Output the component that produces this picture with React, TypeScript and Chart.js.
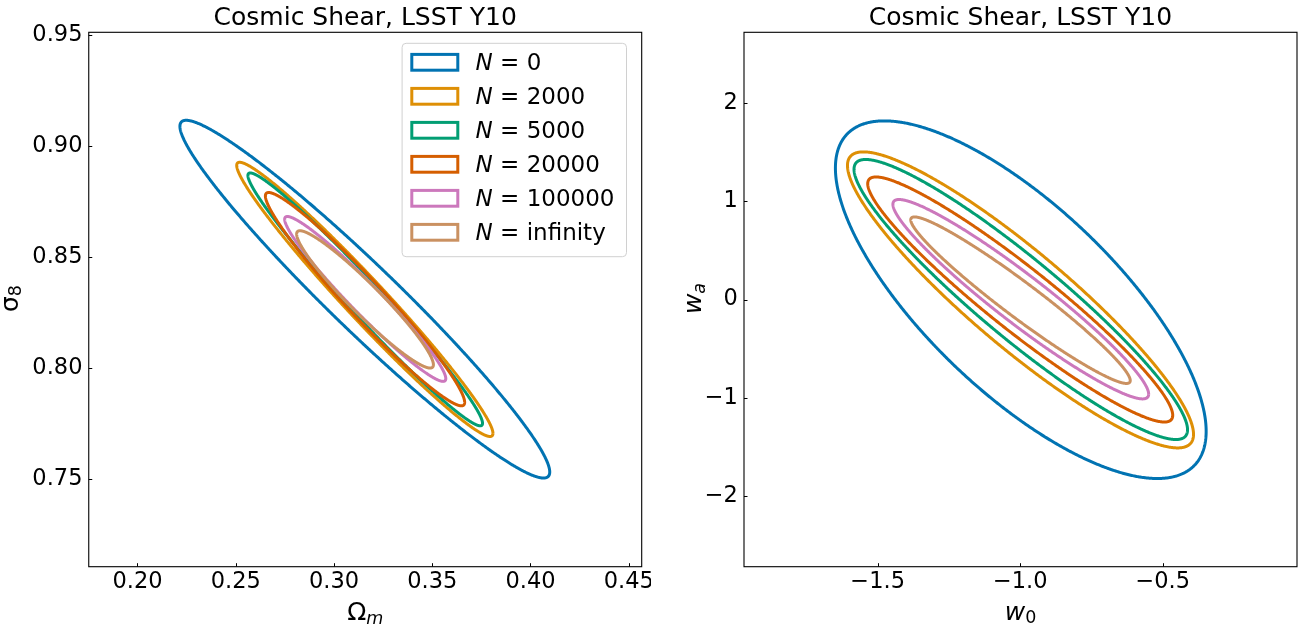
import { useEffect, useRef } from 'react';
import { Chart, registerables } from 'chart.js';

Chart.register(...registerables);

const FONT = "'DejaVu Sans', 'Liberation Sans', sans-serif";

// Survey sizes shown in the legend and their contour colours
const SAMPLE_SIZES = ['0', '2000', '5000', '20000', '100000', 'infinity'];
const COLORS = ['#0173b2', '#de8f05', '#029e73', '#d55e00', '#cc78bc', '#ca9161'];

// Omega_m / sigma_8 contours: centre, half-extent along each axis and correlation
const OM_CENTER = [0.3157, 0.3157, 0.3159, 0.3158, 0.3159, 0.3158];
const S8_CENTER = [0.8311, 0.831, 0.831, 0.8311, 0.8312, 0.831];
const OM_HALF = [0.0941, 0.0652, 0.0597, 0.0507, 0.041, 0.0348];
const S8_HALF = [0.0805, 0.0617, 0.0569, 0.048, 0.0371, 0.0309];
const OM_S8_RHO = [-0.966, -0.977, -0.98, -0.967, -0.966, -0.951];

// w0 / wa contours
const W0_CENTER = [-0.998, -0.999, -0.998, -1.0, -0.998, -0.999];
const WA_CENTER = [-0.002, -0.004, 0.0, 0.0, 0.003, -0.007];
const W0_HALF = [0.6503, 0.607, 0.585, 0.535, 0.4486, 0.385];
const WA_HALF = [1.817, 1.504, 1.4228, 1.245, 1.013, 0.846];
const W0_WA_RHO = [-0.736, -0.908, -0.93, -0.945, -0.952, -0.965];

// Axis ranges and ticks
const OM_RANGE = [0.1752, 0.4566];
const S8_RANGE = [0.7107, 0.9512];
const W0_RANGE = [-1.969, -0.029];
const WA_RANGE = [-2.715, 2.715];
const OM_TICKS = [0.2, 0.25, 0.3, 0.35, 0.4, 0.45];
const S8_TICKS = [0.75, 0.8, 0.85, 0.9, 0.95];
const W0_TICKS = [-1.5, -1.0, -0.5];
const WA_TICKS = [-2, -1, 0, 1, 2];

const TITLE = 'Cosmic Shear, LSST Y10';

type Part = { text: string; italic?: boolean; sub?: boolean };

function contour(cx: number, cy: number, a: number, b: number, rho: number) {
  const pts: { x: number; y: number }[] = [];
  const s = Math.sqrt(1 - rho * rho);
  const n = 480;
  for (let i = 0; i <= n; i++) {
    const t = (2 * Math.PI * i) / n;
    pts.push({ x: cx + a * Math.cos(t), y: cy + b * (rho * Math.cos(t) + s * Math.sin(t)) });
  }
  return pts;
}

function fmt(v: number, decimals: number) {
  const s = Math.abs(v).toFixed(decimals);
  return v < -1e-9 ? '\u2212' + s : s;
}

function drawMath(ctx: CanvasRenderingContext2D, parts: Part[], size: number) {
  const subSize = size * 0.7;
  const fontFor = (p: Part) =>
    `${p.italic ? 'italic ' : ''}${p.sub ? subSize : size}px ${FONT}`;
  let total = 0;
  const widths = parts.map((p) => {
    ctx.font = fontFor(p);
    const w = ctx.measureText(p.text).width;
    total += w;
    return w;
  });
  let x = -total / 2;
  ctx.textAlign = 'left';
  ctx.textBaseline = 'alphabetic';
  parts.forEach((p, i) => {
    ctx.font = fontFor(p);
    ctx.fillText(p.text, x, p.sub ? size * 0.15 : 0);
    x += widths[i];
  });
}

type PanelOpts = {
  xLabel: Part[];
  yLabel: Part[];
  yLabelX: number;
  xLabelY: number;
  legend: boolean;
};

function panelPlugin(o: PanelOpts) {
  return {
    id: 'panelDecor',
    afterDraw(chart: any) {
      const { ctx, chartArea: ca } = chart;
      ctx.save();
      ctx.fillStyle = '#000';
      ctx.strokeStyle = '#000';

      // inward tick marks
      ctx.lineWidth = 1;
      const xs = chart.scales.x;
      const ys = chart.scales.y;
      ctx.beginPath();
      xs.ticks.forEach((t: any) => {
        const px = Math.round(xs.getPixelForValue(t.value)) + 0.5;
        ctx.moveTo(px, ca.bottom);
        ctx.lineTo(px, ca.bottom - 3.5);
      });
      ys.ticks.forEach((t: any) => {
        const py = Math.round(ys.getPixelForValue(t.value)) + 0.5;
        ctx.moveTo(ca.left, py);
        ctx.lineTo(ca.left + 3.5, py);
      });
      ctx.stroke();

      // frame
      ctx.lineWidth = 1.1;
      ctx.strokeRect(ca.left, ca.top, ca.right - ca.left, ca.bottom - ca.top);

      // title
      ctx.font = `25px ${FONT}`;
      ctx.textAlign = 'center';
      ctx.textBaseline = 'alphabetic';
      ctx.fillText(TITLE, (ca.left + ca.right) / 2, 25);

      // axis labels
      ctx.save();
      ctx.translate((ca.left + ca.right) / 2, o.xLabelY);
      drawMath(ctx, o.xLabel, 25);
      ctx.restore();
      ctx.save();
      ctx.translate(o.yLabelX, (ca.top + ca.bottom) / 2 - 1);
      ctx.rotate(-Math.PI / 2);
      drawMath(ctx, o.yLabel, 25);
      ctx.restore();

      if (o.legend) {
        const w = 224.4;
        const h = 213.4;
        const lx = ca.right - 15.2 - w;
        const ly = ca.top + 11;
        ctx.beginPath();
        ctx.roundRect(lx, ly, w, h, 4);
        ctx.fillStyle = 'rgba(255,255,255,0.8)';
        ctx.fill();
        ctx.strokeStyle = '#d0d0d0';
        ctx.lineWidth = 1;
        ctx.stroke();
        const fs = 23;
        SAMPLE_SIZES.forEach((n, i) => {
          const cy = ly + 19 + i * 34;
          ctx.strokeStyle = COLORS[i];
          ctx.lineWidth = 3;
          ctx.strokeRect(lx + 9.7, cy - 7.9, 46, 15.8);
          ctx.fillStyle = '#000';
          ctx.textAlign = 'left';
          ctx.textBaseline = 'alphabetic';
          const bx = lx + 73.5;
          const by = cy + 8;
          ctx.font = `italic ${fs}px ${FONT}`;
          ctx.fillText('N', bx, by);
          const nw = ctx.measureText('N').width;
          ctx.font = `${fs}px ${FONT}`;
          ctx.fillText(' = ' + n, bx + nw, by);
        });
      }
      ctx.restore();
    },
  };
}

function datasets(
  cx: number[],
  cy: number[],
  hx: number[],
  hy: number[],
  rho: number[]
) {
  return SAMPLE_SIZES.map((n, i) => ({
    label: 'N = ' + n,
    data: contour(cx[i], cy[i], hx[i], hy[i], rho[i]),
    borderColor: COLORS[i],
    backgroundColor: 'transparent',
    borderWidth: 3,
    borderJoinStyle: 'round',
    showLine: true,
    fill: false,
    pointRadius: 0,
    pointHoverRadius: 0,
    // a tiny tension keeps Chart.js on the full path renderer (smooth tips)
    tension: 0.001,
    order: SAMPLE_SIZES.length - i,
  }));
}

function axis(
  range: number[],
  ticks: number[],
  decimals: number,
  isX: boolean,
  size: number,
  padding: number
) {
  return {
    type: 'linear',
    position: isX ? 'bottom' : 'left',
    min: range[0],
    max: range[1],
    grid: { display: false, drawTicks: false },
    border: { display: false },
    ticks: {
      color: '#000',
      font: { family: FONT, size: 22.5 },
      padding,
      autoSkip: false,
      maxRotation: 0,
      minRotation: 0,
      callback: (v: number) => fmt(v, decimals),
    },
    afterBuildTicks: (s: any) => {
      s.ticks = ticks.map((v) => ({ value: v }));
    },
    afterFit: (s: any) => {
      if (isX) s.height = size;
      else s.width = size;
      s.paddingLeft = 0;
      s.paddingRight = 0;
      s.paddingTop = 0;
      s.paddingBottom = 0;
    },
  };
}

type PanelProps = {
  left: number;
  build: () => any;
};

function Panel({ left, build }: PanelProps) {
  const ref = useRef<HTMLCanvasElement | null>(null);
  useEffect(() => {
    if (!ref.current) return;
    const chart = new Chart(ref.current, build());
    return () => chart.destroy();
  }, []);
  return (
    <canvas
      ref={ref}
      width={651}
      height={628}
      style={{ position: 'absolute', left, top: 0, width: 651, height: 628 }}
    />
  );
}

function leftConfig() {
  return {
    type: 'scatter',
    data: { datasets: datasets(OM_CENTER, S8_CENTER, OM_HALF, S8_HALF, OM_S8_RHO) },
    options: {
      animation: false,
      responsive: false,
      devicePixelRatio: 1,
      layout: { padding: { left: 0, right: 9.3, top: 32.3, bottom: 0 } },
      plugins: { legend: { display: false }, tooltip: { enabled: false }, title: { display: false } },
      scales: {
        x: axis(OM_RANGE, OM_TICKS, 2, true, 61.3, 2),
        y: axis(S8_RANGE, S8_TICKS, 2, false, 88.75, 6.3),
      },
    },
    plugins: [
      panelPlugin({
        xLabel: [{ text: '\u03a9' }, { text: 'm', italic: true, sub: true }],
        yLabel: [{ text: '\u03c3' }, { text: '8', sub: true }],
        yLabelX: 17.5,
        xLabelY: 620,
        legend: true,
      }),
    ],
  };
}

function rightConfig() {
  return {
    type: 'scatter',
    data: { datasets: datasets(W0_CENTER, WA_CENTER, W0_HALF, WA_HALF, W0_WA_RHO) },
    options: {
      animation: false,
      responsive: false,
      devicePixelRatio: 1,
      layout: { padding: { left: 0, right: 5, top: 32.3, bottom: 0 } },
      plugins: { legend: { display: false }, tooltip: { enabled: false }, title: { display: false } },
      scales: {
        x: axis(W0_RANGE, W0_TICKS, 1, true, 61.3, 2),
        y: axis(WA_RANGE, WA_TICKS, 0, false, 93, 6.2),
      },
    },
    plugins: [
      panelPlugin({
        xLabel: [{ text: 'w', italic: true }, { text: '0', sub: true }],
        yLabel: [{ text: 'w', italic: true }, { text: 'a', italic: true, sub: true }],
        yLabelX: 50,
        xLabelY: 619.5,
        legend: false,
      }),
    ],
  };
}

export default function App() {
  return (
    <div
      style={{
        position: 'fixed',
        left: 0,
        top: 0,
        width: 1302,
        height: 628,
        background: '#fff',
        overflow: 'hidden',
      }}
    >
      <Panel left={0} build={leftConfig} />
      <Panel left={651} build={rightConfig} />
    </div>
  );
}
